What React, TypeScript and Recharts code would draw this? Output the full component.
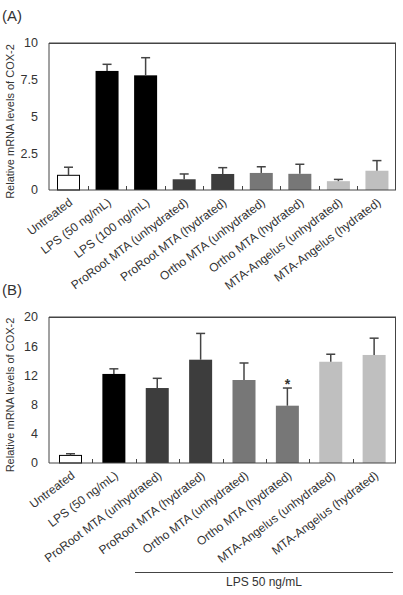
import { BarChart, Bar, XAxis, YAxis, Cell, ReferenceLine } from "recharts";

const categoriesA = [
  "Untreated",
  "LPS (50 ng/mL)",
  "LPS (100 ng/mL)",
  "ProRoot MTA (unhydrated)",
  "ProRoot MTA (hydrated)",
  "Ortho MTA (unhydrated)",
  "Ortho MTA (hydrated)",
  "MTA-Angelus (unhydrated)",
  "MTA-Angelus (hydrated)",
];
const meanA = [1.0, 8.1, 7.8, 0.73, 1.09, 1.16, 1.1, 0.6, 1.31];
const sdA = [0.55, 0.45, 1.2, 0.36, 0.43, 0.42, 0.65, 0.12, 0.69];
const ticksA = [0, 2.5, 5, 7.5, 10];

const categoriesB = [
  "Untreated",
  "LPS (50 ng/mL)",
  "ProRoot MTA (unhydrated)",
  "ProRoot MTA (hydrated)",
  "Ortho MTA (unhydrated)",
  "Ortho MTA (hydrated)",
  "MTA-Angelus (unhydrated)",
  "MTA-Angelus (hydrated)",
];
const meanB = [1.04, 12.2, 10.27, 14.15, 11.37, 7.85, 13.87, 14.8];
const sdB = [0.23, 0.7, 1.33, 3.6, 2.33, 2.42, 1.03, 2.3];
const marksB = ["", "", "", "", "", "*", "", ""];
const ticksB = [0, 4, 8, 12, 16, 20];

const colorsA = ["#ffffff", "#000000", "#000000", "#3d3d3d", "#3d3d3d", "#777777", "#777777", "#bfbfbf", "#bfbfbf"];
const colorsB = ["#ffffff", "#000000", "#3d3d3d", "#3d3d3d", "#777777", "#777777", "#bfbfbf", "#bfbfbf"];

const FONT = '"Liberation Sans", Arial, sans-serif';
const AXIS = "#444";
const TEXT = "#333";

const rowsA = categoriesA.map((name, i) => ({ name, mean: meanA[i], sd: sdA[i], mark: "" }));
const rowsB = categoriesB.map((name, i) => ({ name, mean: meanB[i], sd: sdB[i], mark: marksB[i] }));

const crisp = (v: number) => Math.round(v) + 0.5;

const makeShape = (colors: string[]) => (props: any) => {
  const { x, y, width, height, payload, index } = props;
  const fill = colors[index];
  const cx = x + width / 2;
  const perUnit = payload.mean > 0 ? height / payload.mean : 0;
  const top = y - payload.sd * perUnit;
  return (
    <g>
      <rect
        x={fill === "#ffffff" ? x + 0.5 : x}
        y={y}
        width={fill === "#ffffff" ? width - 1 : width}
        height={height}
        fill={fill}
        stroke={fill === "#ffffff" ? "#000" : "none"}
        strokeWidth={1}
      />
      <line x1={cx} x2={cx} y1={y} y2={top} stroke="#444" strokeWidth={1.5} />
      <line x1={cx - 4.5} x2={cx + 4.5} y1={top} y2={top} stroke="#444" strokeWidth={1.5} />
      {payload.mark ? (
        <text x={cx} y={top + 1} textAnchor="middle" fontSize={14} fontWeight="bold" fill={TEXT} fontFamily={FONT}>
          {payload.mark}
        </text>
      ) : null}
    </g>
  );
};

// category labels, the little inward ticks between groups, and the top/right frame edges
const makeTick = (count: number, plotH: number) => (props: any) => {
  const { x, y, payload, index, width } = props;
  const half = Number(payload.offset ?? Number(width) / count / 2);
  const tx = x + 5;
  const ty = y + 14;
  const left = x - (2 * Number(index) + 1) * half;
  const right = left + Number(width);
  const topY = crisp(y - plotH);
  const rightX = crisp(right - 1);
  return (
    <g>
      {Number(index) === 0 ? (
        <g>
          <line x1={left} x2={right} y1={topY} y2={topY} stroke={AXIS} strokeWidth={1} />
          <line x1={rightX} x2={rightX} y1={topY} y2={y} stroke={AXIS} strokeWidth={1} />
        </g>
      ) : null}
      {Number(index) < count - 1 ? (
        <line x1={crisp(x + half)} x2={crisp(x + half)} y1={y} y2={y - 4} stroke={AXIS} strokeWidth={1} />
      ) : null}
      <text
        x={tx}
        y={ty}
        transform={`rotate(-37, ${tx}, ${ty})`}
        textAnchor="end"
        fontSize={12}
        fill={TEXT}
        fontFamily={FONT}
      >
        {payload.value}
      </text>
    </g>
  );
};

const YLabel = (props: any) => {
  const vb = props.viewBox || { y: 0, height: 0 };
  const cy = vb.y + vb.height / 2 + 5;
  return (
    <text
      x={14}
      y={cy}
      transform={`rotate(-90, 14, ${cy})`}
      textAnchor="middle"
      fontSize={11}
      fill={TEXT}
      fontFamily={FONT}
    >
      Relative  mRNA levels of COX-2
    </text>
  );
};

function Panel({
  rows,
  colors,
  ticks,
  height,
  top,
  xHeight,
}: {
  rows: any[];
  colors: string[];
  ticks: number[];
  height: number;
  top: number;
  xHeight: number;
}) {
  const yMax = ticks[ticks.length - 1];
  return (
    <BarChart
      width={403}
      height={height}
      data={rows}
      margin={{ top, right: 7, left: 0, bottom: 0 }}
      barSize={23}
      style={{ overflow: "visible" }}
    >
      <XAxis
        dataKey="name"
        interval={0}
        height={xHeight}
        tickSize={0}
        tickMargin={0}
        tickLine={false}
        axisLine={{ stroke: AXIS }}
        tick={makeTick(rows.length, height - top - xHeight)}
      />
      <YAxis
        width={49}
        domain={[ticks[0], yMax]}
        ticks={ticks}
        interval={0}
        tickLine={false}
        tickMargin={5}
        axisLine={{ stroke: AXIS }}
        tick={{ fill: TEXT, fontSize: 12.5, fontFamily: FONT }}
        label={<YLabel />}
      />
      <ReferenceLine y={yMax} stroke={AXIS} ifOverflow="visible" />
      <Bar dataKey="mean" isAnimationActive={false} shape={makeShape(colors)}>
        {rows.map((r, i) => (
          <Cell key={r.name} fill={colors[i]} />
        ))}
      </Bar>
    </BarChart>
  );
}

export default function App() {
  return (
    <div
      style={{
        position: "absolute",
        left: 0,
        top: 0,
        width: 403,
        height: 595,
        background: "#fff",
        fontFamily: FONT,
        color: TEXT,
      }}
    >
      <div style={{ position: "absolute", left: 2, top: 7, fontSize: 15, lineHeight: "17px" }}>(A)</div>
      <div style={{ position: "absolute", left: 0, top: 0 }}>
        <Panel rows={rowsA} colors={colorsA} ticks={ticksA} height={300} top={43} xHeight={110} />
      </div>
      <div style={{ position: "absolute", left: 2, top: 281, fontSize: 15, lineHeight: "17px" }}>(B)</div>
      <div style={{ position: "absolute", left: 0, top: 300 }}>
        <Panel rows={rowsB} colors={colorsB} ticks={ticksB} height={295} top={17} xHeight={132} />
      </div>
      <div
        style={{
          position: "absolute",
          left: 135,
          top: 572,
          width: 258,
          borderTop: `1px solid ${AXIS}`,
        }}
      />
      <div
        style={{
          position: "absolute",
          left: 135,
          top: 575,
          width: 258,
          textAlign: "center",
          fontSize: 12,
          lineHeight: "14px",
        }}
      >
        LPS 50 ng/mL
      </div>
    </div>
  );
}
